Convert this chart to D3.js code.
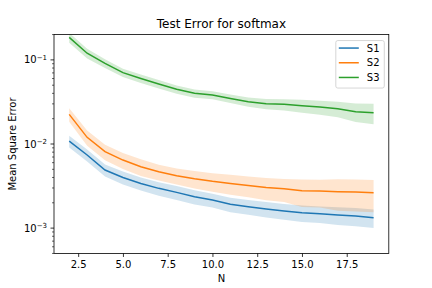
<!DOCTYPE html>
<html>
<head>
<meta charset="utf-8">
<script src="https://cdn.jsdelivr.net/npm/d3@7"></script>
<style>
  body { margin: 0; background: #fff; }
  svg { font-family: "DejaVu Sans", sans-serif; }
</style>
</head>
<body>
<div id="chart"></div>
<script>
// data
const N = [2, 3, 4, 5, 6, 7, 8, 9, 10, 11, 12, 13, 14, 15, 16, 17, 18, 19];
const seriesNames = ["S1", "S2", "S3"];
const colors = ["#1f77b4", "#ff7f0e", "#2ca02c"];

const s1Mean = [0.0108, 0.0074, 0.0049, 0.0040, 0.0034, 0.00297, 0.00266, 0.00236, 0.00216, 0.00192, 0.00180, 0.00169, 0.00160, 0.00152, 0.00148, 0.00143, 0.00139, 0.00133];
const s1Std  = [0.0017, 0.0012, 0.0008, 0.0007, 0.0006, 0.00055, 0.0005, 0.00045, 0.0004, 0.00038, 0.00036, 0.00035, 0.00034, 0.00034, 0.00033, 0.00034, 0.00034, 0.00033];
const s2Mean = [0.0225, 0.0120, 0.0081, 0.00644, 0.00537, 0.00468, 0.0042, 0.00386, 0.0036, 0.0034, 0.00322, 0.00304, 0.00294, 0.00278, 0.00276, 0.00271, 0.00268, 0.00264];
const s2Std  = [0.0041, 0.0025, 0.0017, 0.0014, 0.0012, 0.0010, 0.0009, 0.0009, 0.0009, 0.0009, 0.0009, 0.0009, 0.0009, 0.0010, 0.0010, 0.0011, 0.0011, 0.0011];
const s3Mean = [0.185, 0.120, 0.091, 0.0705, 0.060, 0.0516, 0.0447, 0.040, 0.0382, 0.0348, 0.0318, 0.0301, 0.0296, 0.0285, 0.0275, 0.0263, 0.0242, 0.0236];
const s3Std  = [0.025, 0.016, 0.011, 0.008, 0.007, 0.006, 0.005, 0.0045, 0.0042, 0.004, 0.004, 0.0042, 0.0045, 0.005, 0.0052, 0.0055, 0.006, 0.0064];

const xTicks = [2.5, 5.0, 7.5, 10.0, 12.5, 15.0, 17.5];
const yMajor = [1e-3, 1e-2, 1e-1];
const yExp = ["\u22123", "\u22122", "\u22121"];

const W = 432, H = 288;
const m = { left: 54, right: 43.2, top: 34.56, bottom: 34.56 };
const iw = W - m.left - m.right, ih = H - m.top - m.bottom;

const svg = d3.select("#chart").append("svg")
  .attr("width", W).attr("height", H);

const g = svg.append("g")
  .attr("transform", "translate(" + m.left + "," + m.top + ")");

const x = d3.scaleLinear().domain([1.15, 19.85]).range([0, iw]);
const y = d3.scaleLog().domain([0.0005, 0.2]).range([ih, 0]);

const series = [
  { name: seriesNames[0], mean: s1Mean, std: s1Std, color: colors[0] },
  { name: seriesNames[1], mean: s2Mean, std: s2Std, color: colors[1] },
  { name: seriesNames[2], mean: s3Mean, std: s3Std, color: colors[2] }
];

g.append("clipPath").attr("id", "clip")
  .append("rect").attr("width", iw).attr("height", ih);

const plot = g.append("g").attr("clip-path", "url(#clip)");

const area = d3.area()
  .x(d => x(d.n))
  .y0(d => y(Math.max(d.lo, 1e-6)))
  .y1(d => y(d.hi));

const line = d3.line()
  .x(d => x(d.n))
  .y(d => y(d.v));

// bands first, then lines (same order as fill_between then plot per series)
series.forEach(s => {
  const pts = N.map((n, i) => ({ n: n, v: s.mean[i], lo: s.mean[i] - s.std[i], hi: s.mean[i] + s.std[i] }));
  plot.append("path").datum(pts)
    .attr("d", area)
    .attr("fill", s.color)
    .attr("fill-opacity", 0.2)
    .attr("stroke", "none");
  plot.append("path").datum(pts)
    .attr("d", line)
    .attr("fill", "none")
    .attr("stroke", s.color)
    .attr("stroke-width", 1.5);
});

// x axis
const xAxis = g.append("g")
  .attr("transform", "translate(0," + ih + ")")
  .call(d3.axisBottom(x).tickValues(xTicks).tickFormat(d3.format(".1f")).tickSize(3.5).tickPadding(3.5));
xAxis.select(".domain").remove();
xAxis.selectAll("text").attr("font-size", 10).attr("fill", "#000").attr("font-family", "DejaVu Sans");
xAxis.selectAll("line").attr("stroke", "#000").attr("stroke-width", 0.8);

// y axis: minor ticks
const minor = [];
[1e-4, 1e-3, 1e-2, 1e-1].forEach(b => {
  for (let k = 2; k <= 9; k++) {
    const v = k * b;
    if (v >= 0.0005 && v <= 0.2) minor.push(v);
  }
});
g.append("g").selectAll("line").data(minor).enter().append("line")
  .attr("x1", -2).attr("x2", 0)
  .attr("y1", d => y(d)).attr("y2", d => y(d))
  .attr("stroke", "#000").attr("stroke-width", 0.6);

// y axis: major ticks with 10^k labels
const yMaj = g.append("g").selectAll("g").data(yMajor).enter().append("g")
  .attr("transform", d => "translate(0," + y(d) + ")");
yMaj.append("line").attr("x1", -3.5).attr("x2", 0)
  .attr("stroke", "#000").attr("stroke-width", 0.8);
const yt = yMaj.append("text")
  .attr("x", -7).attr("dy", "0.35em")
  .attr("text-anchor", "end")
  .attr("font-size", 10);
yt.append("tspan").text("10");
yt.append("tspan").attr("dy", "-0.45em").attr("font-size", 7).text((d, i) => yExp[i]);

// frame
g.append("rect").attr("width", iw).attr("height", ih)
  .attr("fill", "none").attr("stroke", "#000").attr("stroke-width", 0.8);

// title and labels
svg.append("text")
  .attr("x", m.left + iw / 2).attr("y", m.top - 7)
  .attr("text-anchor", "middle").attr("font-size", 12)
  .text("Test Error for softmax");
svg.append("text")
  .attr("x", m.left + iw / 2).attr("y", H - 6)
  .attr("text-anchor", "middle").attr("font-size", 10)
  .text("N");
svg.append("text")
  .attr("transform", "translate(16," + (m.top + ih / 2) + ") rotate(-90)")
  .attr("text-anchor", "middle").attr("font-size", 10)
  .text("Mean Square Error");

// legend
const lg = g.append("g").attr("transform", "translate(" + (iw - 53) + ",6)");
lg.append("rect").attr("width", 48.5).attr("height", 47.5).attr("rx", 2)
  .attr("fill", "#fff").attr("fill-opacity", 0.8)
  .attr("stroke", "#ccc").attr("stroke-width", 0.8);
series.forEach((s, i) => {
  const row = lg.append("g").attr("transform", "translate(0," + (7.5 + i * 14.7) + ")");
  row.append("line").attr("x1", 3).attr("x2", 23)
    .attr("stroke", s.color).attr("stroke-width", 1.5);
  row.append("text").attr("x", 31).attr("dy", "0.35em")
    .attr("font-size", 10).text(s.name);
});
</script>
</body>
</html>
